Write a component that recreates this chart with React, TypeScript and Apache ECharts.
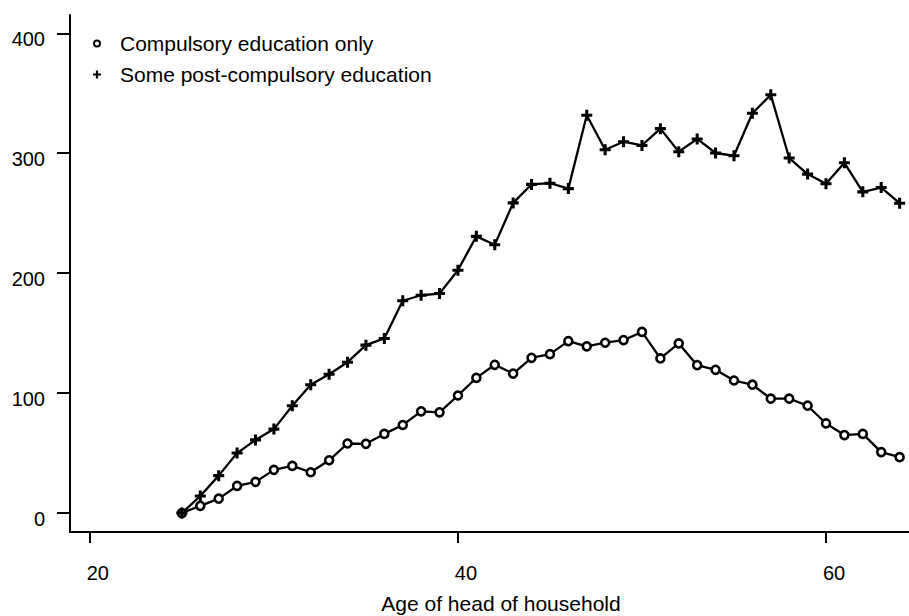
import React, { useEffect, useRef } from "react";
import * as echarts from "echarts";

const ages: number[] = [
  25, 26, 27, 28, 29, 30, 31, 32, 33, 34, 35, 36, 37, 38, 39, 40, 41, 42, 43, 44,
  45, 46, 47, 48, 49, 50, 51, 52, 53, 54, 55, 56, 57, 58, 59, 60, 61, 62, 63, 64,
];
const compulsoryOnly: number[] = [
  0, 6, 12, 22.6, 26, 36, 39.3, 34, 44, 58, 57.7, 66, 73.4, 84.8, 84, 98, 112.7, 123.6, 116.3, 129.4,
  132.5, 143.3, 139, 142, 144.2, 151, 128.9, 141.4, 123.3, 119.4, 110.5, 107, 95.4, 95.4, 89.5, 74.7, 65, 66, 50.8, 46.6,
];
const postCompulsory: number[] = [
  0, 14.2, 31.2, 50, 61, 70, 89.5, 106.9, 115.7, 125.8, 140, 145.6, 177, 181.6, 183, 202.5, 230.7, 223.7, 258.6, 274,
  275, 270.5, 331.6, 302.9, 309.6, 306.5, 320.5, 301.3, 311.9, 300.2, 297.9, 333.3, 348.7, 296, 282.6, 274.5, 292, 267.8, 271.4, 258.3,
];
const yTicks: number[] = [0, 100, 200, 300, 400];
const xTicks: number[] = [20, 40, 60];
const seriesNames: string[] = ["Compulsory education only", "Some post-compulsory education"];
const xAxisTitle = "Age of head of household";

const FONT = '"Liberation Sans", Arial, Helvetica, sans-serif';
const PLUS = "path://M3.6,0H6.4V3.6H10V6.4H6.4V10H3.6V6.4H0V3.6H3.6Z";
const RING =
  "path://M5,0A5,5 0 1,1 5,10A5,5 0 1,1 5,0ZM5,2.4A2.6,2.6 0 1,0 5,7.6A2.6,2.6 0 1,0 5,2.4Z";

export default function App() {
  const ref = useRef<HTMLDivElement>(null);
  useEffect(() => {
    if (!ref.current) return;
    const chart = echarts.init(ref.current, undefined, { renderer: "svg" });
    const pts = (vals: number[]) => ages.map((a, i) => [a, vals[i]]);
    chart.setOption({
      animation: false,
      backgroundColor: "#fff",
      textStyle: { fontFamily: FONT, color: "#000" },
      grid: { left: 70, right: 0, top: 15, bottom: 84, containLabel: false, outerBoundsMode: "none" },
      legend: {
        orient: "vertical",
        left: 88,
        top: 28,
        itemWidth: 36,
        itemHeight: 8,
        itemGap: 10,
        symbolKeepAspect: true,
        textStyle: { fontFamily: FONT, fontSize: 21, color: "#000", lineHeight: 21 },
        data: [
          { name: seriesNames[0], icon: RING, itemStyle: { color: "#000", borderWidth: 0 } },
          { name: seriesNames[1], icon: PLUS, itemStyle: { color: "#000", borderWidth: 0 } },
        ],
      },
      xAxis: {
        type: "value",
        min: 18.92,
        max: 64.51,
        name: xAxisTitle,
        nameLocation: "middle",
        nameGap: 61,
        nameTextStyle: { fontFamily: FONT, fontSize: 21, color: "#000", padding: [0, 0, 0, 23] },
        axisLine: { show: true, onZero: false, lineStyle: { color: "#000", width: 2 } },
        axisTick: { show: true, inside: false, length: 11, customValues: xTicks, lineStyle: { color: "#000", width: 2 } },
        axisLabel: {
          customValues: xTicks,
          margin: 31,
          fontFamily: FONT,
          fontSize: 20,
          color: "#000",
          padding: [0, 0, 0, 16],
        },
        splitLine: { show: false },
      },
      yAxis: {
        type: "value",
        min: -15.8,
        max: 415.25,
        axisLine: { show: true, onZero: false, lineStyle: { color: "#000", width: 2 } },
        axisTick: { show: true, inside: false, length: 13, customValues: yTicks, lineStyle: { color: "#000", width: 2 } },
        axisLabel: {
          customValues: yTicks,
          margin: 25,
          color: "#000",
          formatter: (v: number) => "{a|" + v + "}",
          rich: {
            a: { fontFamily: FONT, fontSize: 20, color: "#000", padding: [11, 0, 0, 0] },
          },
        },
        splitLine: { show: false },
      },
      series: [
        {
          name: seriesNames[0],
          type: "line",
          data: pts(compulsoryOnly),
          symbol: "circle",
          symbolSize: 8,
          showAllSymbol: true,
          lineStyle: { color: "#000", width: 2.3 },
          itemStyle: { color: "#fff", borderColor: "#000", borderWidth: 2.6 },
          emphasis: { disabled: true },
        },
        {
          name: seriesNames[1],
          type: "line",
          data: pts(postCompulsory),
          symbol: PLUS,
          symbolSize: 11,
          showAllSymbol: true,
          lineStyle: { color: "#000", width: 2.3 },
          itemStyle: { color: "#000" },
          emphasis: { disabled: true },
        },
      ],
    });
    return () => chart.dispose();
  }, []);
  return (
    <div
      ref={ref}
      style={{ position: "fixed", left: 0, top: 0, width: 909, height: 616, background: "#fff" }}
    />
  );
}
